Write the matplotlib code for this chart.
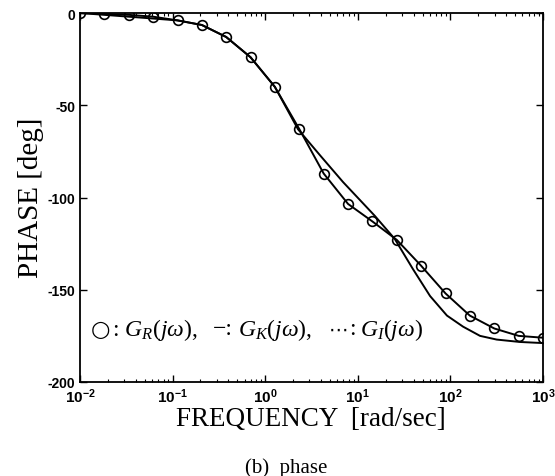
import numpy as np
import matplotlib
matplotlib.use("Agg")
import matplotlib.pyplot as plt
from matplotlib.ticker import FixedLocator, FixedFormatter, LogLocator, NullFormatter

plt.rcParams['mathtext.fontset'] = 'custom'
plt.rcParams['mathtext.rm'] = 'Liberation Serif'
plt.rcParams['mathtext.it'] = 'Liberation Serif:italic'
plt.rcParams['mathtext.sf'] = 'Liberation Sans:bold'

## ------------- phase data ---------------####
# G_R(jw): measured points (circles)
w_R = [0.01, 0.0183, 0.0336, 0.0616, 0.113, 0.207, 0.379, 0.695, 1.27, 2.34,
       4.28, 7.85, 14.4, 26.4, 48.3, 88.6, 162.0, 298.0, 546.0, 1000.0]
phase_R = [0.0, -0.5, -1.0, -2.0, -4.0, -6.5, -13.0, -24.0, -40.0, -63.0,
           -87.0, -103.5, -113.0, -123.0, -137.0, -152.0, -164.0, -171.0, -175.0, -176.0]

# G_K(jw): identified model
w_K = [0.01, 0.113, 0.207, 0.379, 0.695, 1.27, 2.26, 3.89, 6.92, 15.3,
       25.1, 39.4, 60.3, 91.8, 137.0, 209.0, 316.0, 562.0, 1000.0]
phase_K = [0.0, -4.0, -6.5, -13.0, -24.0, -40.0, -63.0, -77.0, -91.6, -110.0,
           -122.5, -138.8, -153.4, -164.0, -170.0, -175.0, -177.0, -178.3, -178.9]

xtick_vals = [1e-2, 1e-1, 1e0, 1e1, 1e2, 1e3]
xtick_labels = [r'$\mathsf{10^{-2}}$', r'$\mathsf{10^{-1}}$', r'$\mathsf{10^{0}}$',
                r'$\mathsf{10^{1}}$', r'$\mathsf{10^{2}}$', r'$\mathsf{10^{3}}$']
ytick_vals = [0, -50, -100, -150, -200]

# legend pieces: (text, left edge in px)
legend_parts = [(': $G_R(j\\omega)$,', 112), ('\u2212:', 213),
                ('$G_K(j\\omega)$,', 238), (':', 349),
                ('$G_I(j\\omega)$', 360)]

W, H = 555, 477
fig = plt.figure(figsize=(W / 100, H / 100), dpi=100)
ax = fig.add_axes([80 / W, 94 / H, 463 / W, 369 / H])

ax.plot(w_K, phase_K, color='black', lw=1.4)
ax.plot(w_R, phase_R, color='black', lw=1.4, marker='o', ms=7,
        mfc='none', mec='black', mew=1.2)

ax.set_xscale('log')
ax.set_xlim(1e-2, 1e3)
ax.set_ylim(-200, 0)

ax.xaxis.set_major_locator(FixedLocator(xtick_vals))
ax.xaxis.set_major_formatter(FixedFormatter(xtick_labels))
ax.xaxis.set_minor_locator(LogLocator(base=10, subs=np.arange(2, 10), numticks=20))
ax.xaxis.set_minor_formatter(NullFormatter())
ax.set_yticks(ytick_vals)
ax.set_yticklabels([str(v) for v in ytick_vals])

ax.tick_params(which='both', direction='in', top=True, right=True)
ax.tick_params(which='major', length=5, width=1)
ax.tick_params(which='minor', length=2.5, width=0.8)
for lab in ax.get_yticklabels():
    lab.set_fontfamily('Liberation Sans')
    lab.set_fontweight('bold')
    lab.set_fontsize(10)
for lab in ax.get_xticklabels():
    lab.set_fontsize(11)
for sp_ in ax.spines.values():
    sp_.set_linewidth(1.3)

fig.text(311 / W, 1 - 420 / H, 'FREQUENCY  [rad/sec]', family='Liberation Serif',
         fontsize=19.5, ha='center', va='center')
fig.text(31 / W, 1 - 198 / H, 'PHASE [deg]', family='Liberation Serif',
         fontsize=21, rotation=90, ha='center', va='center')

# legend written inside the axes
ly = 1 - 330 / H
fig.text(91 / W, ly, '\u25CB', family='DejaVu Sans', fontsize=16, ha='left', va='center')
fig.text(329 / W, ly, '\u22EF', family='DejaVu Sans', fontsize=14, ha='left', va='center')
for txt, xpx in legend_parts:
    fig.text(xpx / W, ly, txt, family='Liberation Serif',
             fontsize=17, ha='left', va='center')

fig.text(286 / W, 1 - 468 / H, '(b)  phase', family='Liberation Serif',
         fontsize=15, ha='center', va='center')

fig.savefig('out.png', dpi=100)
